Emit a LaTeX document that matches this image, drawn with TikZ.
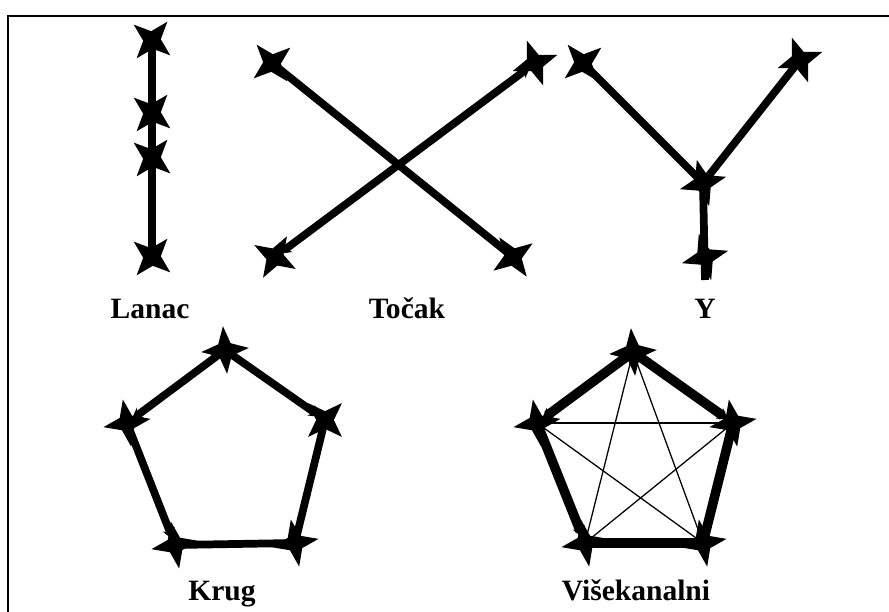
\documentclass[tikz,border=0pt]{standalone}
\usepackage{fontspec}
\setmainfont{Liberation Serif}
\usetikzlibrary{arrows.meta, shapes.geometric, backgrounds}

\begin{document}
\begin{tikzpicture}[
  x=0.025cm, y=-0.025cm,
  vtx/.style    = {star, star points=4, star point ratio=2.7, fill=black,
                   minimum size=34pt, inner sep=0pt, rotate=-40},
  link/.style   = {line width=5.5pt},
  heavy/.style  = {line width=6.8pt},
  chord/.style  = {line width=0.9pt},
  arr/.style    = {-{Stealth[length=8pt, width=9pt]}, shorten >=4pt},
  dblarr/.style = {{Stealth[length=8pt, width=9pt]}-{Stealth[length=8pt, width=9pt]},
                   shorten >=4pt, shorten <=4pt},
  gname/.style  = {anchor=base, font=\bfseries\fontsize{21}{25}\selectfont},
]
  \useasboundingbox (0,0) rectangle (889,612);
  \draw[line width=1.4pt] (8,612) -- (8,16) -- (889,16);

  % Lanac
  \node[vtx] (l1) at (152,40)  {};
  \node[vtx] (l2) at (152,113) {};
  \node[vtx] (l3) at (152,158) {};
  \node[vtx] (l4) at (152,257) {};
  \node[gname] (lanac) at (150,318) {Lanac};

  % Tocak
  \node[vtx, rotate=-10] (t1) at (272,63)  {};
  \node[vtx, rotate=-15] (t2) at (513,257) {};
  \node[vtx, rotate=10]  (t3) at (275,257) {};
  \node[vtx, rotate=-30] (t4) at (535,63)  {};
  \node[gname] (tocak) at (407,318) {Točak};

  % Y
  \node[vtx, rotate=-10] (y1) at (583,63)  {};
  \node[vtx, rotate=-30] (y2) at (800,60)  {};
  \node[vtx, rotate=-35] (y3) at (703,183) {};
  \node[vtx, rotate=-35] (y4) at (705,257) {};
  \coordinate (yend) at (705,280);
  \node[gname] (ipsilon) at (705,318) {Y};

  % Krug
  \node[vtx, rotate=-45] (k1) at (225,350) {};
  \node[vtx, rotate=-5]  (k2) at (325,420) {};
  \node[vtx, rotate=-40] (k3) at (295,543) {};
  \node[vtx, rotate=-40] (k4) at (175,545) {};
  \node[vtx, rotate=-40] (k5) at (127,423) {};
  \node[gname] (krug) at (222,600) {Krug};

  % Visekanalni
  \node[vtx, rotate=-45] (v1) at (633,352) {};
  \node[vtx, rotate=-40] (v2) at (733,423) {};
  \node[vtx, rotate=-40] (v3) at (703,543) {};
  \node[vtx, rotate=-40] (v4) at (585,543) {};
  \node[vtx, rotate=-40] (v5) at (537,423) {};
  \node[gname] (visek) at (636,600) {Višekanalni};

  \begin{scope}[on background layer]
    \draw[link] (l1.center) -- (l4.center);
    \draw[link] (t1.center) -- (t2.center);
    \draw[link, dblarr] (t3.center) -- (t4.center);
    \draw[link] (y1.center) -- (y3.center);
    \draw[link] (y2.center) -- (y3.center);
    \draw[link] (y3.center) -- (yend);
    \draw[link, arr] (k1.center) -- (k5.center);
    \draw[link, arr] (k1.center) -- (k2.center);
    \draw[link] (k2.center) -- (k3.center);
    \draw[link] (k3.center) -- (k4.center);
    \draw[link, arr] (k5.center) -- (k4.center);
    \draw[heavy, arr] (v1.center) -- (v5.center);
    \draw[heavy, arr] (v1.center) -- (v2.center);
    \draw[heavy] (v2.center) -- (v3.center);
    \draw[heavy] (v3.center) -- (v4.center);
    \draw[heavy, arr] (v5.center) -- (v4.center);
    \draw[chord] (v1.center) -- (v3.center);
    \draw[chord] (v1.center) -- (v4.center);
    \draw[chord] (v5.center) -- (v2.center);
    \draw[chord] (v5.center) -- (v3.center);
    \draw[chord] (v4.center) -- (v2.center);
  \end{scope}
\end{tikzpicture}
\end{document}
